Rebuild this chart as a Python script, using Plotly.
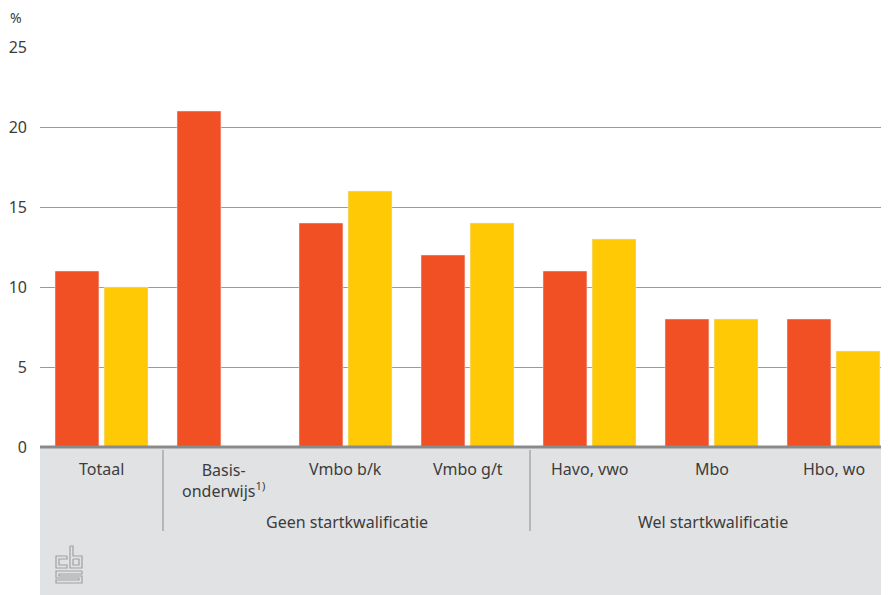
import plotly.graph_objects as go

categories = ["Totaal", "Basis-<br>onderwijs<sup>1)</sup>", "Vmbo b/k", "Vmbo g/t", "Havo, vwo", "Mbo", "Hbo, wo"]
series_a = [11, 21, 14, 12, 11, 8, 8]
series_b = [10, None, 16, 14, 13, 8, 6]
group_labels = ["Geen startkwalificatie", "Wel startkwalificatie"]
y_ticks = [0, 5, 10, 15, 20, 25]

# page body has an 8px margin: figure sized/placed to compensate
OFF = 8
W, H = 889 - OFF, 595 - OFF
L, R, T, B = 40 - OFF, 0, 47 - OFF, 148
FONT = "Noto Sans"
TXT = "#3c3c3c"
FS = 16

# helpers take reference-image pixel coordinates
def px(x):
    return (x - 40) / 849

def py(y):
    return (447 - y) / 400

xs = list(range(len(categories)))
fig = go.Figure()
fig.add_bar(x=xs, y=series_a, marker_color="#F15025", width=0.36, offset=-0.381,
            showlegend=False, hoverinfo="skip")
fig.add_bar(x=xs, y=series_b, marker_color="#FFCA05", width=0.36, offset=0.021,
            showlegend=False, hoverinfo="skip")

shapes = []
shapes.append(dict(type="rect", xref="paper", yref="paper", x0=0, x1=px(890), y0=py(448), y1=py(596),
                   fillcolor="#e1e2e4", line_width=0, layer="below"))
shapes.append(dict(type="line", xref="paper", yref="paper", x0=0, x1=px(890), y0=py(447), y1=py(447),
                   line=dict(color="#8a8a8a", width=3)))
for sx in [163, 530]:
    shapes.append(dict(type="line", xref="paper", yref="paper", x0=px(sx), x1=px(sx), y0=py(450), y1=py(531),
                       line=dict(color="#9a9a9a", width=1.2)))

def path(points):
    return "M " + " L ".join(f"{px(x)},{py(y)}" for x, y in points)

logo_col = "#a0a0a0"
logo_paths = [
    # c
    [(67, 556), (56, 556), (56, 568), (67, 568), (67, 565), (59, 565), (59, 559), (67, 559), (67, 556)],
    # b
    [(70, 546), (73, 546), (73, 556), (82, 556), (82, 568), (70, 568), (70, 546)],
    [(73, 559), (79, 559), (79, 565), (73, 565), (73, 559)],
    # s
    [(82, 571), (56, 571), (56, 578), (79, 578), (79, 580), (56, 580), (56, 583), (82, 583),
     (82, 576), (59, 576), (59, 574), (82, 574), (82, 571)],
]
for p in logo_paths:
    shapes.append(dict(type="path", xref="paper", yref="paper", path=path(p),
                       line=dict(color=logo_col, width=1.2)))

annotations = []
for i, c in enumerate(categories):
    yy = py(480) if i == 1 else py(469)
    annotations.append(dict(x=i, xref="x", yref="paper", y=yy, text=c, showarrow=False,
                            font=dict(family=FONT, size=FS, color=TXT), yanchor="middle", xanchor="center"))
for gx, g in zip([346.5, 713], group_labels):
    annotations.append(dict(x=px(gx), xref="paper", yref="paper", y=py(522), text=g, showarrow=False,
                            font=dict(family=FONT, size=FS, color=TXT), yanchor="middle", xanchor="center"))
annotations.append(dict(x=px(8), xref="paper", yref="paper", y=py(18), text="%", showarrow=False,
                        font=dict(family=FONT, size=14, color=TXT), yanchor="middle", xanchor="left"))

fig.update_layout(
    width=W, height=H,
    margin=dict(l=L, r=R, t=T, b=B, pad=0),
    paper_bgcolor="white", plot_bgcolor="white",
    barmode="overlay",
    shapes=shapes, annotations=annotations,
    xaxis=dict(range=[(40 - 101.5) / 122, (889 - 101.5) / 122], showticklabels=False, showgrid=False,
               zeroline=False, showline=False, ticks="", fixedrange=True),
    yaxis=dict(range=[0, 25], tickvals=y_ticks, showgrid=True, gridcolor="#9a9a9a", gridwidth=1,
               zeroline=False, showline=False, ticks="", ticklabelstandoff=12,
               tickfont=dict(family=FONT, size=FS, color=TXT), fixedrange=True),
)
fig.write_html("out.html")
